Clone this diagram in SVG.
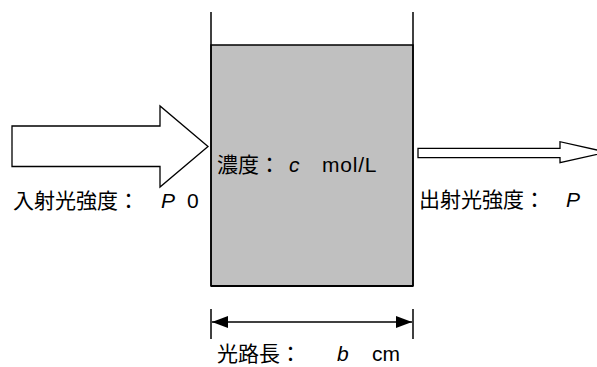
<svg xmlns="http://www.w3.org/2000/svg" width="597" height="367" viewBox="0 0 597 367">
<style>
.cjk{font-family:"Noto Sans CJK JP","Noto Sans CJK SC",sans-serif;font-size:21px;fill:#000}
.lat{font-family:"Liberation Sans",Arial,sans-serif;font-size:21px;fill:#000}
.it{font-style:italic}
.ln{stroke:#000;stroke-width:1.5;fill:none}
.arrow{fill:#fff;stroke:#000;stroke-width:1.3}
</style>
<defs>
<marker id="ah" viewBox="0 0 16 12" refX="16" refY="6" markerWidth="16" markerHeight="12" markerUnits="userSpaceOnUse" orient="auto-start-reverse">
<path d="M0,0 L16,6 L0,12 Z" fill="#000"/>
</marker>
</defs>
<g id="cuvette">
<rect x="211" y="45" width="202" height="241" fill="#c0c0c0" stroke="#000" stroke-width="1.5"/>
<line class="ln" x1="211" y1="12" x2="211" y2="286"/>
<line class="ln" x1="413" y1="12" x2="413" y2="286"/>
<line x1="211" y1="286" x2="413" y2="286" stroke="#000" stroke-width="2"/>
<text class="cjk" x="217" y="172">濃度：</text>
<text class="lat it" x="289" y="172">c</text>
<text class="lat" x="322" y="172" letter-spacing="0.8">mol/L</text>
</g>
<g id="incident">
<polygon class="arrow" points="12,126 160,126 160,106 208,146.5 160,187 160,166.5 12,166.5"/>
<text class="cjk" x="13" y="208">入射光強度：</text>
<text class="lat it" x="161" y="208">P</text>
<text class="lat" x="187" y="208" font-size="14">0</text>
</g>
<g id="transmitted">
<polygon class="arrow" points="418,148.3 560,148.3 560,141.7 607,152.2 560,162.7 560,157.7 418,157.7"/>
<text class="cjk" x="419" y="207">出射光強度：</text>
<text class="lat it" x="566" y="207">P</text>
</g>
<g id="connectors">
<line class="ln" x1="211" y1="309" x2="211" y2="339"/>
<line class="ln" x1="413" y1="309" x2="413" y2="339"/>
<line x1="212" y1="322" x2="412" y2="322" stroke="#000" stroke-width="1.5" marker-start="url(#ah)" marker-end="url(#ah)"/>
</g>
<g id="pathlength">
<text class="cjk" x="217" y="361">光路長：</text>
<text class="lat it" x="337" y="361">b</text>
<text class="lat" x="372" y="361">cm</text>
</g>
</svg>
